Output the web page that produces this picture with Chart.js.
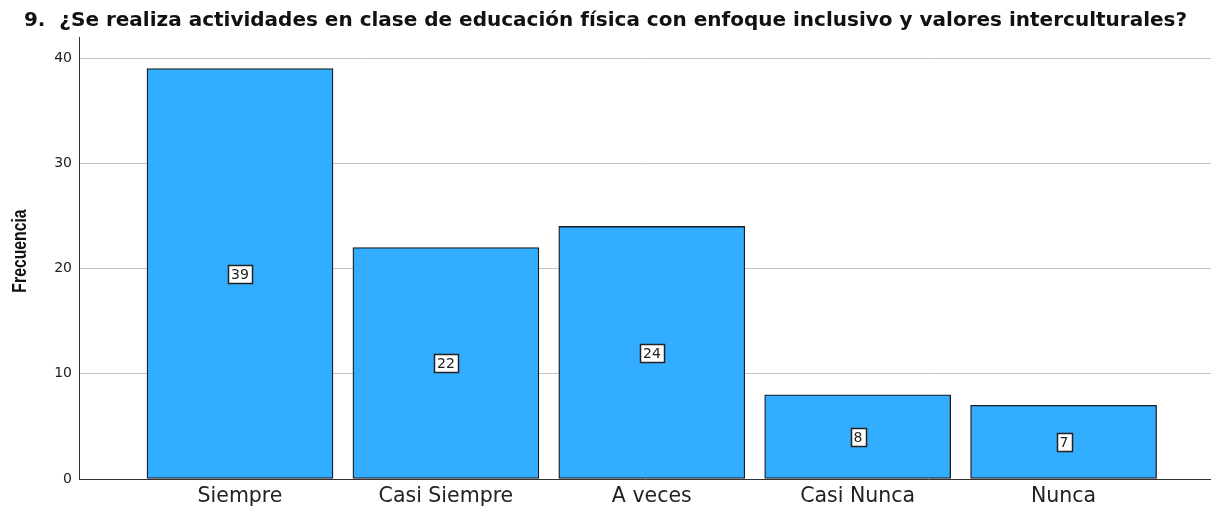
<!DOCTYPE html>
<html>
<head>
<meta charset="utf-8">
<script src="https://cdn.jsdelivr.net/npm/chart.js@4/dist/chart.umd.min.js"></script>
<style>
  html, body { margin: 0; padding: 0; background: #fff; }
  #chart { display: block; }
</style>
</head>
<body>
<canvas id="chart" width="1211" height="508"></canvas>
<script>
const chartTitle = '9.  ¿Se realiza actividades en clase de educación física con enfoque inclusivo y valores interculturales?';
const yTitle = 'Frecuencia';
const categories = ['Siempre', 'Casi Siempre', 'A veces', 'Casi Nunca', 'Nunca'];
const frecuencia = [39, 22, 24, 8, 7];
const yTicks = [0, 10, 20, 30, 40];

// white boxed value in the middle of each bar
const boxLabels = {
  id: 'boxLabels',
  afterDatasetsDraw(chart) {
    const ctx = chart.ctx;
    const yScale = chart.scales.y;
    const meta = chart.getDatasetMeta(0);
    ctx.save();
    ctx.font = '14px "DejaVu Sans"';
    ctx.textAlign = 'center';
    ctx.textBaseline = 'middle';
    meta.data.forEach((bar, i) => {
      const v = frecuencia[i];
      const txt = String(v);
      const cx = Math.round(bar.x);
      const cy = Math.round(yScale.getPixelForValue(v / 2));
      const w = Math.ceil(ctx.measureText(txt).width) + 6;
      const h = 18;
      const x0 = Math.round(cx - w / 2) + 0.5;
      const y0 = Math.round(cy - h / 2) + 0.5;
      ctx.fillStyle = '#fff';
      ctx.fillRect(x0, y0, w, h);
      ctx.strokeStyle = '#222';
      ctx.lineWidth = 1.5;
      ctx.strokeRect(x0, y0, w, h);
      ctx.fillStyle = '#222';
      ctx.fillText(txt, cx, cy + 1);
    });
    ctx.restore();
  }
};

// condensed bold axis title, the narrow font is not installed
const condensedYTitle = {
  id: 'condensedYTitle',
  afterDraw(chart) {
    const ctx = chart.ctx;
    ctx.save();
    ctx.translate(21, 251);
    ctx.rotate(-Math.PI / 2);
    ctx.scale(0.83, 1.05);
    ctx.font = 'bold 19px "Liberation Sans", Arial';
    ctx.fillStyle = '#111';
    ctx.textAlign = 'center';
    ctx.textBaseline = 'middle';
    ctx.fillText(yTitle, 0, 0);
    ctx.restore();
  }
};

new Chart(document.getElementById('chart'), {
  type: 'bar',
  data: {
    datasets: [{
      label: yTitle,
      data: frecuencia.map((v, i) => ({ x: i, y: v })),
      backgroundColor: '#33adff',
      borderColor: '#1a1a1a',
      borderWidth: 1.3,
      borderSkipped: false,
      barThickness: 186
    }]
  },
  options: {
    responsive: false,
    animation: false,
    layout: { padding: 0 },
    plugins: {
      legend: { display: false },
      tooltip: { enabled: false },
      title: {
        display: true,
        text: chartTitle,
        color: '#111',
        font: { family: '"DejaVu Sans"', size: 20, weight: 'bold', lineHeight: 1.2 },
        padding: { top: 9, bottom: 4 }
      }
    },
    scales: {
      x: {
        type: 'linear',
        offset: false,
        min: -0.782,
        max: 4.716,
        afterBuildTicks(scale) {
          scale.ticks = categories.map((c, i) => ({ value: i }));
        },
        afterFit(scale) { scale.height = 29; },
        grid: { display: false, drawTicks: false },
        border: { display: true, color: '#333', width: 1 },
        ticks: {
          autoSkip: false,
          maxRotation: 0,
          padding: 5,
          color: '#222',
          font: { family: '"DejaVu Sans"', size: 20.5 },
          callback: (v) => categories[v]
        }
      },
      y: {
        min: 0,
        max: 42,
        afterBuildTicks(scale) {
          scale.ticks = yTicks.map(v => ({ value: v }));
        },
        afterFit(scale) { scale.width = 79; },
        grid: {
          color: (c) => c.tick && c.tick.value === 0 ? 'rgba(0,0,0,0)' : '#c4c4c4',
          drawTicks: false
        },
        border: { display: true, color: '#333', width: 1 },
        ticks: {
          padding: 7,
          color: '#222',
          font: { family: '"DejaVu Sans"', size: 14 }
        }
      }
    }
  },
  plugins: [boxLabels, condensedYTitle]
});
</script>
</body>
</html>
